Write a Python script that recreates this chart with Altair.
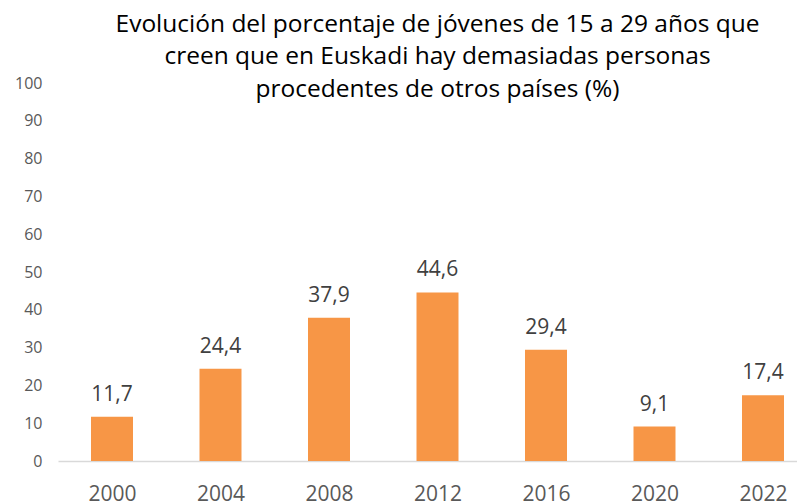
import altair as alt
import pandas as pd

years = ["2000", "2004", "2008", "2012", "2016", "2020", "2022"]
values = [11.7, 24.4, 37.9, 44.6, 29.4, 9.1, 17.4]
title_lines = [
    "Evolución del porcentaje de jóvenes de 15 a 29 años que",
    "creen que en Euskadi hay demasiadas personas",
    "procedentes de otros países (%)",
]

df = pd.DataFrame({"idx": list(range(len(years))), "year": years, "value": values})
df["label"] = [f"{v:.1f}".replace(".", ",") for v in values]

FONT = "Open Sans"
year_array = "[" + ",".join(f"'{y}'" for y in years) + "]"

base = alt.Chart(df).encode(
    x=alt.X(
        "idx:Q",
        title=None,
        scale=alt.Scale(domain=[-0.4977, 6.3134], nice=False, zero=False, padding=0),
        axis=alt.Axis(
            values=list(range(len(years))),
            labelExpr=f"{year_array}[datum.value]",
            labelAngle=0,
            labelFontSize=21,
            labelColor="#595959",
            labelFont=FONT,
            labelPadding=22,
            labelFlush=False,
            labelOverlap=False,
            ticks=False,
            domainColor="#d9d9d9",
            domainWidth=1.5,
            grid=False,
        ),
    ),
    y=alt.Y(
        "value:Q",
        title=None,
        scale=alt.Scale(domain=[0, 100], padding=0),
        axis=alt.Axis(
            values=list(range(0, 101, 10)),
            labelFontSize=16,
            labelColor="#595959",
            labelFont=FONT,
            labelPadding=16,
            ticks=False,
            domain=False,
            grid=False,
        ),
    ),
)

bars = base.mark_bar(color="#F79646", width=42)
labels = base.mark_text(
    dy=-16, baseline="alphabetic", fontSize=21, color="#404040", font=FONT
).encode(text="label:N")

chart = (
    (bars + labels)
    .properties(
        width=739,
        height=378,
        title=alt.TitleParams(
            text=title_lines,
            fontSize=24.5,
            font=FONT,
            fontWeight="normal",
            color="#000000",
            lineHeight=32.5,
            anchor="middle",
            baseline="alphabetic",
            offset=0,
            dx=10,
            dy=46,
        ),
        autosize=alt.AutoSizeParams(type="none"),
        padding={"left": 50, "top": 75, "right": 0, "bottom": 40},
    )
    .configure_view(stroke=None)
)

chart.save("out.html", embed_options={"renderer": "svg", "actions": False})
